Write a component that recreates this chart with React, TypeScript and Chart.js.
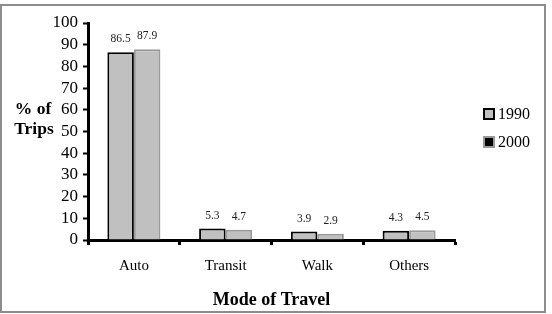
import React, { useEffect, useRef } from "react";
import { Chart, registerables } from "chart.js";

Chart.register(...registerables);

const categories = ["Auto", "Transit", "Walk", "Others"];
const series1990 = [86.5, 5.3, 3.9, 4.3];
const series2000 = [87.9, 4.7, 2.9, 4.5];
const seriesLabels = ["1990", "2000"];
const yTitleLines = ["% of", "Trips"];
const xTitle = "Mode of Travel";

const SERIF = "'Liberation Serif', 'Times New Roman', serif";

const decorPlugin = {
  id: "decor",
  afterDraw(chart: any) {
    const ctx = chart.ctx;
    const area = chart.chartArea;
    ctx.save();
    // frame
    ctx.strokeStyle = "#8c8c8c";
    ctx.lineWidth = 2;
    ctx.strokeRect(1, 5, 544, 307);

    // data labels
    ctx.fillStyle = "#222";
    ctx.font = `11.5px ${SERIF}`;
    ctx.textAlign = "center";
    ctx.textBaseline = "middle";
    chart.data.datasets.forEach((ds: any, di: number) => {
      const meta = chart.getDatasetMeta(di);
      meta.data.forEach((el: any, i: number) => {
        ctx.fillText(String(ds.data[i]), el.x, el.y - 13);
      });
    });

    // y title (horizontal)
    ctx.fillStyle = "#000";
    ctx.font = `bold 17.5px ${SERIF}`;
    ctx.textAlign = "center";
    ctx.fillText(yTitleLines[0], 33, 109);
    ctx.fillText(yTitleLines[1], 34, 129);

    // x title
    ctx.font = `bold 18px ${SERIF}`;
    ctx.fillText(xTitle, (area.left + area.right) / 2, 300);

    // legend
    const items = [
      { label: chart.data.datasets[0].label, fill: "#c0c0c0", stroke: "#000", y: 114 },
      { label: chart.data.datasets[1].label, fill: "#000", stroke: "#999", y: 142 },
    ];
    ctx.font = `16px ${SERIF}`;
    ctx.textAlign = "left";
    items.forEach((it) => {
      ctx.fillStyle = it.fill;
      ctx.fillRect(484, it.y - 5, 10, 10);
      ctx.strokeStyle = it.stroke;
      ctx.lineWidth = 2;
      ctx.strokeRect(484, it.y - 5, 10, 10);
      ctx.fillStyle = "#000";
      ctx.fillText(it.label, 498, it.y + 1);
    });
    ctx.restore();
  },
};

export default function App() {
  const ref = useRef<HTMLCanvasElement | null>(null);
  useEffect(() => {
    document.body.style.margin = "0";
    const canvas = ref.current;
    if (!canvas) return;
    const chart = new Chart(canvas, {
      type: "bar",
      data: {
        labels: categories,
        datasets: [
          {
            label: seriesLabels[0],
            data: series1990,
            backgroundColor: "#c0c0c0",
            borderColor: "#000",
            borderWidth: 2,
            borderSkipped: "bottom",
            categoryPercentage: 0.578,
            barPercentage: 1,
          },
          {
            label: seriesLabels[1],
            data: series2000,
            backgroundColor: "#c0c0c0",
            borderColor: "#9a9a9a",
            borderWidth: 2,
            borderSkipped: "bottom",
            categoryPercentage: 0.578,
            barPercentage: 1,
          },
        ],
      },
      options: {
        responsive: false,
        animation: false,
        events: [],
        layout: { padding: { top: 23, left: 0, right: 97, bottom: 0 } },
        plugins: {
          legend: { display: false },
          tooltip: { enabled: false },
          title: { display: false },
        },
        scales: {
          x: {
            afterFit(scale: any) {
              scale.height = 74;
            },
            border: { display: true, color: "#000", width: 3 },
            grid: {
              offset: true,
              drawOnChartArea: false,
              drawTicks: true,
              tickLength: 5,
              tickWidth: 3,
              tickColor: "#000",
            },
            ticks: {
              color: "#000",
              padding: 12,
              font: { family: SERIF, size: 15 },
            },
          },
          y: {
            min: 0,
            max: 100,
            afterFit(scale: any) {
              scale.width = 88;
            },
            border: { display: true, color: "#000", width: 3 },
            grid: {
              drawOnChartArea: false,
              drawTicks: true,
              tickLength: 5,
              tickWidth: 2,
              tickColor: "#000",
            },
            ticks: {
              stepSize: 10,
              autoSkip: false,
              color: "#000",
              padding: 5,
              font: { family: SERIF, size: 17 },
            },
          },
        },
      },
      plugins: [decorPlugin],
    });
    return () => chart.destroy();
  }, []);
  return <canvas ref={ref} width={552} height={314} style={{ display: "block" }} />;
}
